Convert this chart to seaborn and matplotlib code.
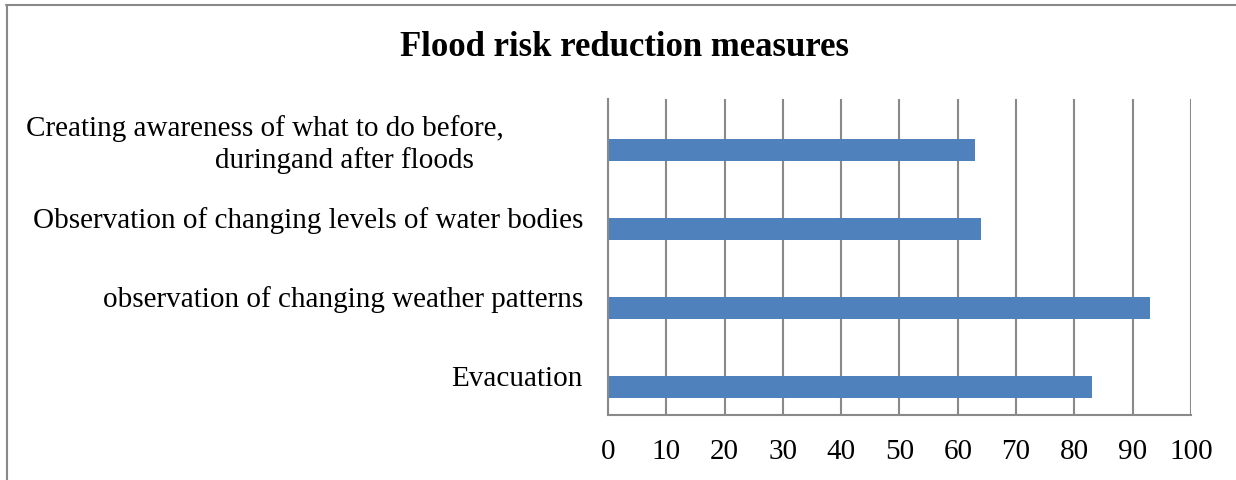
import matplotlib
matplotlib.use("Agg")
import matplotlib.pyplot as plt
from matplotlib.lines import Line2D
import seaborn as sns
import pandas as pd

# Survey results: share of respondents citing each flood risk reduction measure
measures = [
    "Creating awareness of what to do before,\nduringand after floods",
    "Observation of changing levels of water bodies",
    "observation of changing weather patterns",
    "Evacuation",
]
series_names = ["Series2", "Series1"]
series2_values = [0, 0, 0, 0]
series1_values = [63, 64, 93, 83]
x_ticks = list(range(0, 101, 10))

df = pd.DataFrame({
    "measure": measures * 2,
    "series": [series_names[0]] * len(measures) + [series_names[1]] * len(measures),
    "value": series2_values + series1_values,
})

sns.set_style("white")
plt.rcParams["font.family"] = ["Liberation Serif", "DejaVu Serif"]
plt.rcParams["text.color"] = "black"

grid_color = "#898989"
fig = plt.figure(figsize=(12.36, 4.8), dpi=100)
ax = fig.add_axes([608 / 1236, 1 - 415 / 480, (1191 - 608) / 1236, (415 - 99) / 480])

sns.barplot(
    data=df, x="value", y="measure", hue="series",
    order=measures, hue_order=series_names,
    palette={"Series2": "#C0504D", "Series1": "#4F81BD"},
    width=0.58, gap=0, linewidth=0, legend=False, orient="h", ax=ax,
    saturation=1,
)

ax.set_xlim(0, 100)
ax.set_xticks(x_ticks)
ax.set_xticklabels([str(t) for t in x_ticks])
ax.set_xlabel("")
ax.set_ylabel("")
ax.xaxis.grid(True, color=grid_color, linewidth=1.5)
ax.yaxis.grid(False)
ax.set_axisbelow(True)

for side in ("top", "right"):
    ax.spines[side].set_visible(False)
for side in ("left", "bottom"):
    ax.spines[side].set_color(grid_color)
    ax.spines[side].set_linewidth(1.5)

# wrapped category label: lines are right-aligned with a little trailing padding
nbsp = "\u00a0"
line_pad = [11, 15]
display_labels = []
for name in measures:
    parts = name.split("\n")
    if len(parts) > 1:
        name = "\n".join(p + nbsp * line_pad[i] for i, p in enumerate(parts))
    display_labels.append(name)
ax.set_yticks(range(len(measures)))
ax.set_yticklabels(display_labels)

ax.tick_params(axis="x", length=0, pad=17, labelsize=21, labelcolor="black")
ax.tick_params(axis="y", length=0, pad=18, labelsize=21, labelcolor="black")
for lab in ax.get_yticklabels():
    lab.set_multialignment("right")
    lab.set_linespacing(1.25)

fig.text(625 / 1236, 1 - 48 / 480, "Flood risk reduction measures",
         ha="center", va="center", fontsize=25, fontweight="bold", color="black")

# outer frame of the chart area
fig.add_artist(Line2D([6 / 1236, 1], [1 - 5 / 480, 1 - 5 / 480],
                      transform=fig.transFigure, color=grid_color, linewidth=1.5))
fig.add_artist(Line2D([7 / 1236, 7 / 1236], [0, 1 - 5 / 480],
                      transform=fig.transFigure, color=grid_color, linewidth=1.5))

fig.savefig("out.png", dpi=100, facecolor="white")
